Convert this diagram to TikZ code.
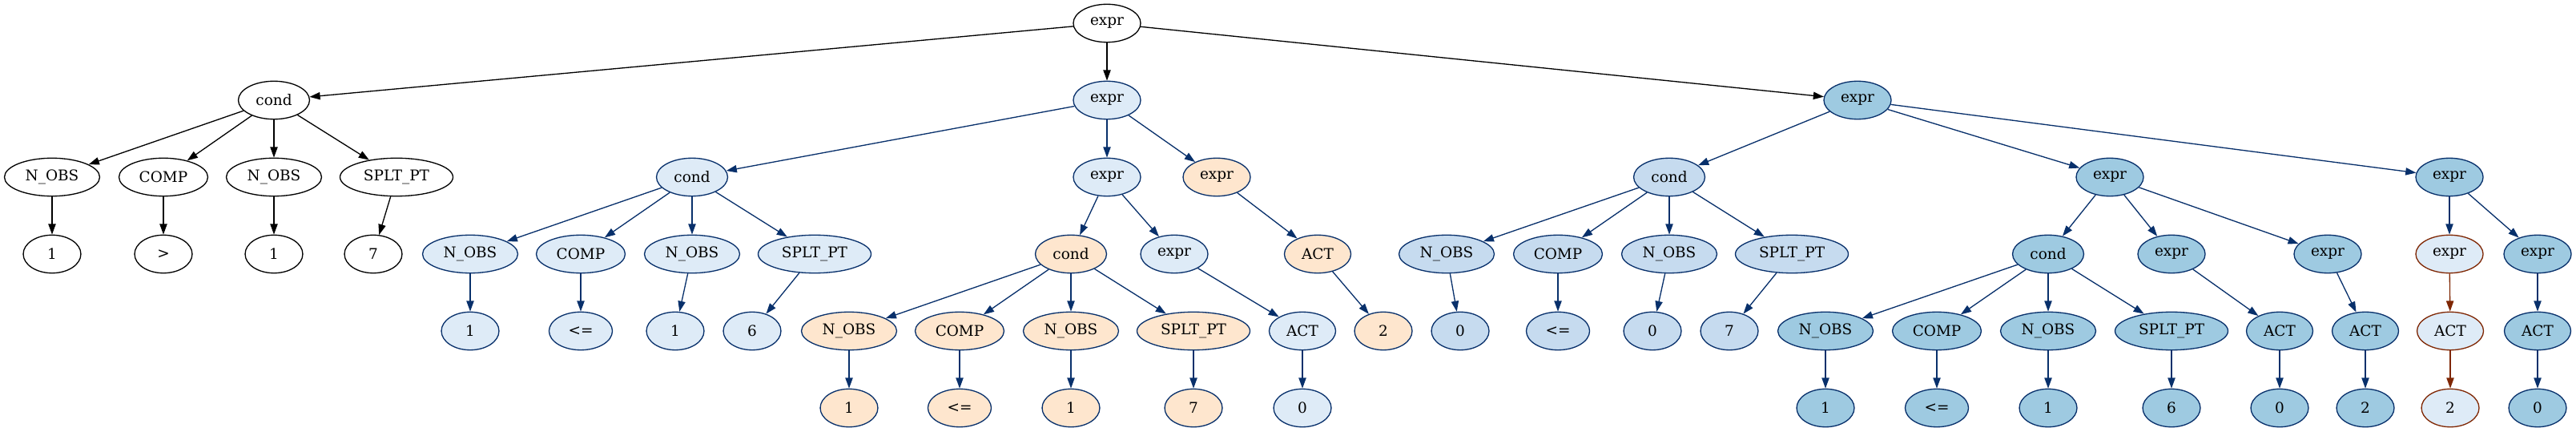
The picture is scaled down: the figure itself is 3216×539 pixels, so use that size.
\documentclass[tikz,border=0pt]{standalone}
\usepackage{fontspec}
\setmainfont{DejaVu Serif}
\usetikzlibrary{shapes.geometric,arrows.meta}
\definecolor{navy}{HTML}{08306B}
\definecolor{lbf}{HTML}{DEEBF7}
\definecolor{mbf}{HTML}{C6DBEF}
\definecolor{dbf}{HTML}{9ECAE1}
\definecolor{orf}{HTML}{FEE6CE}
\definecolor{brn}{HTML}{7F2704}
\tikzset{
  nd/.style={ellipse,draw,line width=1pt,inner sep=0pt,minimum height=36pt,font=\fontsize{14pt}{16pt}\selectfont},
  wt/.style={nd,fill=white,draw=black},
  lbl/.style={nd,fill=lbf,draw=navy},
  mbl/.style={nd,fill=mbf,draw=navy},
  dbl/.style={nd,fill=dbf,draw=navy},
  org/.style={nd,fill=orf,draw=navy},
  rdn/.style={nd,fill=lbf,draw=brn},
  sexpr/.style={minimum width=63.8pt},
  scond/.style={minimum width=67.5pt},
  snobs/.style={minimum width=90.3pt},
  scomp/.style={minimum width=84.2pt},
  ssplt/.style={minimum width=107pt},
  sact/.style={minimum width=63pt},
  ssm/.style={minimum width=54.6pt},
  sle/.style={minimum width=60pt},
  eb/.style={line width=1pt,draw=black,-{Triangle[length=10pt,width=7pt]}},
  en/.style={line width=1pt,draw=navy,-{Triangle[length=10pt,width=7pt]}},
  er/.style={line width=1pt,draw=brn,-{Triangle[length=10pt,width=7pt]}},
}
\begin{document}
\begin{tikzpicture}[x=0.759pt,y=-0.759pt]
\useasboundingbox (0,0) rectangle (3216,539);
% level 0
\node[wt,sexpr] (r) at (1382,29) {expr};
% level 1
\node[wt,scond] (a) at (342,125) {cond};
\node[lbl,sexpr] (b) at (1382,125) {expr};
\node[dbl,sexpr] (c) at (2319,125) {expr};
% level 2
\node[wt,snobs] (a1) at (65,221) {N\_OBS};
\node[wt,scomp] (a2) at (204,221) {COMP};
\node[wt,snobs] (a3) at (342,221) {N\_OBS};
\node[wt,ssplt] (a4) at (495,221) {SPLT\_PT};
\node[lbl,scond] (b1) at (864,221) {cond};
\node[lbl,sexpr] (b2) at (1382,221) {expr};
\node[org,sexpr] (b3) at (1519,221) {expr};
\node[mbl,scond] (c1) at (2084,221) {cond};
\node[dbl,sexpr] (c2) at (2634,221) {expr};
\node[dbl,sexpr] (c3) at (3058,221) {expr};
% level 3
\node[wt,ssm] (a1x) at (65,317) {1};
\node[wt,ssm] (a2x) at (204,317) {>};
\node[wt,ssm] (a3x) at (342,317) {1};
\node[wt,ssm] (a4x) at (466,317) {7};
\node[lbl,snobs] (b11) at (587,317) {N\_OBS};
\node[lbl,scomp] (b12) at (725,317) {COMP};
\node[lbl,snobs] (b13) at (864,317) {N\_OBS};
\node[lbl,ssplt] (b14) at (1017,317) {SPLT\_PT};
\node[org,scond] (b21) at (1337,317) {cond};
\node[lbl,sexpr] (b22) at (1466,317) {expr};
\node[org,sact] (b31) at (1645,317) {ACT};
\node[mbl,snobs] (c11) at (1806,317) {N\_OBS};
\node[mbl,scomp] (c12) at (1945,317) {COMP};
\node[mbl,snobs] (c13) at (2084,317) {N\_OBS};
\node[mbl,ssplt] (c14) at (2237,317) {SPLT\_PT};
\node[dbl,scond] (c21) at (2557,317) {cond};
\node[dbl,sexpr] (c22) at (2711,317) {expr};
\node[dbl,sexpr] (c23) at (2906,317) {expr};
\node[rdn,sexpr] (c31) at (3058,317) {expr};
\node[dbl,sexpr] (c32) at (3168,317) {expr};
% level 4
\node[lbl,ssm] (b11x) at (587,413) {1};
\node[lbl,sle] (b12x) at (725,413) {<=};
\node[lbl,ssm] (b13x) at (843,413) {1};
\node[lbl,ssm] (b14x) at (939,413) {6};
\node[org,snobs] (b211) at (1060,413) {N\_OBS};
\node[org,scomp] (b212) at (1198,413) {COMP};
\node[org,snobs] (b213) at (1337,413) {N\_OBS};
\node[org,ssplt] (b214) at (1490,413) {SPLT\_PT};
\node[lbl,sact] (b221) at (1626,413) {ACT};
\node[org,ssm] (b31x) at (1727,413) {2};
\node[mbl,ssm] (c11x) at (1823,413) {0};
\node[mbl,sle] (c12x) at (1945,413) {<=};
\node[mbl,ssm] (c13x) at (2063,413) {0};
\node[mbl,ssm] (c14x) at (2159,413) {7};
\node[dbl,snobs] (c211) at (2279,413) {N\_OBS};
\node[dbl,scomp] (c212) at (2418,413) {COMP};
\node[dbl,snobs] (c213) at (2557,413) {N\_OBS};
\node[dbl,ssplt] (c214) at (2711,413) {SPLT\_PT};
\node[dbl,sact] (c221) at (2846,413) {ACT};
\node[dbl,sact] (c231) at (2953,413) {ACT};
\node[rdn,sact] (c311) at (3059,413) {ACT};
\node[dbl,sact] (c321) at (3168,413) {ACT};
% level 5
\node[org,ssm] (b211x) at (1060,509) {1};
\node[org,sle] (b212x) at (1198,509) {<=};
\node[org,ssm] (b213x) at (1337,509) {1};
\node[org,ssm] (b214x) at (1490,509) {7};
\node[lbl,ssm] (b221x) at (1626,509) {0};
\node[dbl,ssm] (c211x) at (2279,509) {1};
\node[dbl,sle] (c212x) at (2418,509) {<=};
\node[dbl,ssm] (c213x) at (2557,509) {1};
\node[dbl,ssm] (c214x) at (2711,509) {6};
\node[dbl,ssm] (c221x) at (2846,509) {0};
\node[dbl,ssm] (c231x) at (2953,509) {2};
\node[rdn,ssm] (c311x) at (3059,509) {2};
\node[dbl,ssm] (c321x) at (3168,509) {0};
% edges
\draw[eb] (r) -- (a);
\draw[eb] (r) -- (b);
\draw[eb] (r) -- (c);
\foreach \i in {1,2,3,4} {\draw[eb] (a) -- (a\i); \draw[eb] (a\i) -- (a\i x);}
\draw[en] (b) -- (b1);
\draw[en] (b) -- (b2);
\draw[en] (b) -- (b3);
\foreach \i in {1,2,3,4} {\draw[en] (b1) -- (b1\i); \draw[en] (b1\i) -- (b1\i x);}
\draw[en] (b2) -- (b21);
\draw[en] (b2) -- (b22);
\foreach \i in {1,2,3,4} {\draw[en] (b21) -- (b21\i); \draw[en] (b21\i) -- (b21\i x);}
\draw[en] (b22) -- (b221);
\draw[en] (b221) -- (b221x);
\draw[en] (b3) -- (b31);
\draw[en] (b31) -- (b31x);
\draw[en] (c) -- (c1);
\draw[en] (c) -- (c2);
\draw[en] (c) -- (c3);
\foreach \i in {1,2,3,4} {\draw[en] (c1) -- (c1\i); \draw[en] (c1\i) -- (c1\i x);}
\draw[en] (c2) -- (c21);
\draw[en] (c2) -- (c22);
\draw[en] (c2) -- (c23);
\foreach \i in {1,2,3,4} {\draw[en] (c21) -- (c21\i); \draw[en] (c21\i) -- (c21\i x);}
\draw[en] (c22) -- (c221);
\draw[en] (c221) -- (c221x);
\draw[en] (c23) -- (c231);
\draw[en] (c231) -- (c231x);
\draw[en] (c3) -- (c31);
\draw[en] (c3) -- (c32);
\draw[er] (c31) -- (c311);
\draw[er] (c311) -- (c311x);
\draw[en] (c32) -- (c321);
\draw[en] (c321) -- (c321x);
\end{tikzpicture}
\end{document}
